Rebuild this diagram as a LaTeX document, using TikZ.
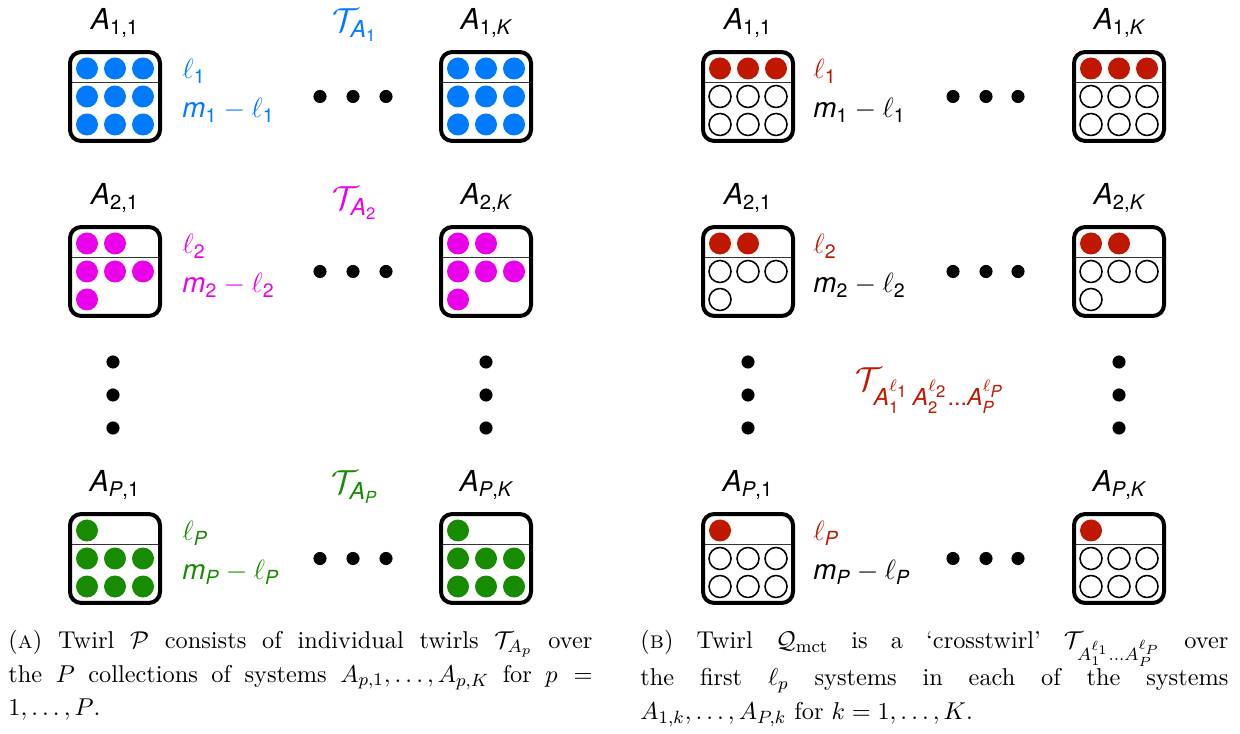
\RequirePackage{fix-cm}
\documentclass[tikz,border=0pt]{standalone}
\usepackage{amsmath}
\usepackage{fontspec}
\newfontfamily\hv{TeX Gyre Heros}
\definecolor{cblue}{RGB}{0,122,255}
\definecolor{cmag}{RGB}{235,0,235}
\definecolor{cgreen}{RGB}{24,140,0}
\definecolor{cred}{RGB}{192,24,0}
\newcommand\hi[1]{\text{\hv\itshape #1}}
\newcommand\hs[1]{\text{\hv #1}}
\tikzset{
  sysbox/.style={draw=black, line width=1.8pt, rounded corners=5pt, minimum width=40.5pt, minimum height=40pt, inner sep=0pt},
  divider/.style={line width=0.4pt, draw=black!80},
  emptydot/.style={draw=black, fill=white, line width=0.7pt},
  bigdot/.style={circle, fill=black, minimum size=5.9pt, inner sep=0pt},
  sysname/.style={anchor=base, inner sep=0pt, font=\fontsize{13}{15}\selectfont},
  countlab/.style={anchor=base west, inner sep=0pt, font=\fontsize{12.5}{15}\selectfont},
  twirl/.style={anchor=base, inner sep=0pt, font=\fontsize{15}{17}\selectfont},
  capt/.style={anchor=north west, inner sep=0pt, align=justify, font=\fontsize{10.95}{15.1}\selectfont}
}
% name, cx, cy, top list, last bottom index, top style, bottom style
\newcommand\drawsys[7]{%
  \begin{scope}[shift={(#2,#3)}]
    \draw[divider] (-46,-14.5) -- (46,-14.5);
    \foreach \k in {#4} \path[#6] ({-28+28*\k},-28) circle (11);
    \foreach \k in {0,...,#5} \path[#7] ({-28+28*mod(\k,3)},{28*floor(\k/3)}) circle (11);
  \end{scope}
  \node[sysbox] (#1) at (#2,#3) {};
}
\begin{document}
\begin{tikzpicture}[x=0.45pt, y=-0.45pt]
\useasboundingbox (0,0) rectangle (1240,734);
% ---------------- Panel A ----------------
\drawsys{a11}{115}{96.5}{0,1,2}{5}{fill=cblue}{fill=cblue}
\drawsys{a1K}{486}{96.5}{0,1,2}{5}{fill=cblue}{fill=cblue}
\drawsys{a21}{115}{271.5}{0,1}{3}{fill=cmag}{fill=cmag}
\drawsys{a2K}{486}{271.5}{0,1}{3}{fill=cmag}{fill=cmag}
\drawsys{aP1}{115}{558.5}{0}{5}{fill=cgreen}{fill=cgreen}
\drawsys{aPK}{486}{558.5}{0}{5}{fill=cgreen}{fill=cgreen}

\node[sysname] (na11) at (115,30) {$\hi{A}_{\hs{1,1}}$};
\node[sysname] (na1K) at (486,30) {$\hi{A}_{\hs{1,}\hi{K}}$};
\node[sysname] (na21) at (115,205) {$\hi{A}_{\hs{2,1}}$};
\node[sysname] (na2K) at (486,205) {$\hi{A}_{\hs{2,}\hi{K}}$};
\node[sysname] (naP1) at (115,492) {$\hi{A}_{\hi{P}\hs{,1}}$};
\node[sysname] (naPK) at (486,492) {$\hi{A}_{\hi{P}\hs{,}\hi{K}}$};

\node[countlab, text=cblue] (la1) at (182,79) {$\ell_{\hs{1}}$};
\node[countlab, text=cblue] (ma1) at (182,118) {$\hi{m}_{\hs{1}}-\ell_{\hs{1}}$};
\node[countlab, text=cmag] (la2) at (182,254) {$\ell_{\hs{2}}$};
\node[countlab, text=cmag] (ma2) at (182,293) {$\hi{m}_{\hs{2}}-\ell_{\hs{2}}$};
\node[countlab, text=cgreen] (laP) at (182,541) {$\ell_{\hi{P}}$};
\node[countlab, text=cgreen] (maP) at (182,580) {$\hi{m}_{\hi{P}}-\ell_{\hi{P}}$};

\node[twirl, text=cblue] (ta1) at (355,32) {$\mathcal{T}_{\hi{A}_{\hs{1}}}$};
\node[twirl, text=cmag] (ta2) at (355,210) {$\mathcal{T}_{\hi{A}_{\hs{2}}}$};
\node[twirl, text=cgreen] (taP) at (355,494) {$\mathcal{T}_{\hi{A}_{\hi{P}}}$};

\foreach \r/\yy in {1/96.5, 2/271.5, P/558.5}{
  \node[bigdot] (ha\r a) at (320,\yy) {};
  \node[bigdot] (ha\r b) at (353,\yy) {};
  \node[bigdot] (ha\r c) at (386,\yy) {};
}
\foreach \c/\xx in {1/113, K/486}{
  \node[bigdot] (va\c a) at (\xx,362) {};
  \node[bigdot] (va\c b) at (\xx,395) {};
  \node[bigdot] (va\c c) at (\xx,428) {};
}

% ---------------- Panel B ----------------
\drawsys{b11}{748}{96.5}{0,1,2}{5}{fill=cred}{emptydot}
\drawsys{b1K}{1119}{96.5}{0,1,2}{5}{fill=cred}{emptydot}
\drawsys{b21}{748}{271.5}{0,1}{3}{fill=cred}{emptydot}
\drawsys{b2K}{1119}{271.5}{0,1}{3}{fill=cred}{emptydot}
\drawsys{bP1}{748}{558.5}{0}{5}{fill=cred}{emptydot}
\drawsys{bPK}{1119}{558.5}{0}{5}{fill=cred}{emptydot}

\node[sysname] (nb11) at (748,30) {$\hi{A}_{\hs{1,1}}$};
\node[sysname] (nb1K) at (1119,30) {$\hi{A}_{\hs{1,}\hi{K}}$};
\node[sysname] (nb21) at (748,205) {$\hi{A}_{\hs{2,1}}$};
\node[sysname] (nb2K) at (1119,205) {$\hi{A}_{\hs{2,}\hi{K}}$};
\node[sysname] (nbP1) at (748,492) {$\hi{A}_{\hi{P}\hs{,1}}$};
\node[sysname] (nbPK) at (1119,492) {$\hi{A}_{\hi{P}\hs{,}\hi{K}}$};

\node[countlab, text=cred] (lb1) at (813,79) {$\ell_{\hs{1}}$};
\node[countlab] (mb1) at (813,118) {$\hi{m}_{\hs{1}}-\ell_{\hs{1}}$};
\node[countlab, text=cred] (lb2) at (813,254) {$\ell_{\hs{2}}$};
\node[countlab] (mb2) at (813,293) {$\hi{m}_{\hs{2}}-\ell_{\hs{2}}$};
\node[countlab, text=cred] (lbP) at (813,541) {$\ell_{\hi{P}}$};
\node[countlab] (mbP) at (813,580) {$\hi{m}_{\hi{P}}-\ell_{\hi{P}}$};

\node[twirl, anchor=base west, text=cred] (tcross) at (855,391)
  {$\mathcal{T}_{\hi{A}_{\hs{1}}^{\ell_{\hs{1}}}\,\hi{A}_{\hs{2}}^{\ell_{\hs{2}}}\hs{...}\hi{A}_{\hi{P}}^{\ell_{\hi{P}}}}$};

\foreach \r/\yy in {1/96.5, 2/271.5, P/558.5}{
  \node[bigdot] (hb\r a) at (953,\yy) {};
  \node[bigdot] (hb\r b) at (986,\yy) {};
  \node[bigdot] (hb\r c) at (1018,\yy) {};
}
\foreach \c/\xx in {1/748, K/1119}{
  \node[bigdot] (vb\c a) at (\xx,362) {};
  \node[bigdot] (vb\c b) at (\xx,395) {};
  \node[bigdot] (vb\c c) at (\xx,428) {};
}

% ---------------- Captions ----------------
\node[capt, text width=262.8pt] (capA) at (8,630)
 {(\textsc{a}) Twirl $\mathcal{P}$ consists of individual twirls $\mathcal{T}_{A_p}$ over\linebreak
  the $P$ collections of systems $A_{p,1},\ldots,A_{p,K}$ for $p =$\linebreak
  $1,\ldots,P$.};
\node[capt, text width=264.6pt] (capB) at (640,630)
 {(\textsc{b}) Twirl $\mathcal{Q}_{\mathrm{mct}}$ is a `crosstwirl' $\mathcal{T}_{A_1^{\ell_1}\ldots A_P^{\ell_P}}$ over\linebreak
  the first $\ell_p$ systems in each of the systems\linebreak
  $A_{1,k},\ldots,A_{P,k}$ for $k=1,\ldots,K$.};
\end{tikzpicture}
\end{document}
